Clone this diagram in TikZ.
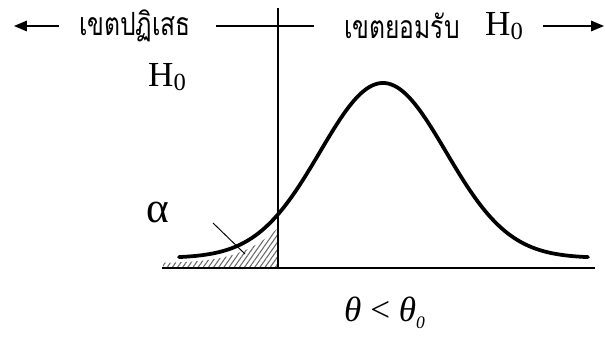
\documentclass[tikz,border=0pt]{standalone}
\usepackage{fontspec}
\setmainfont{Liberation Serif}
\newfontfamily\thaifont[Script=Thai]{Loma}
\usepackage{tikz}
\usetikzlibrary{arrows.meta,patterns.meta}

\newcommand{\tallthai}[1]{\scalebox{1}[1.3]{#1}}
\tikzset{
  zonetxt/.style={inner sep=0pt, font=\thaifont\fontsize{21}{24}\selectfont},
  bigtxt/.style={inner sep=0pt, font=\fontsize{30}{34}\selectfont},
  zoneline/.style={line width=1.2pt},
  bell/.style={line width=3.2pt, line cap=round},
  zonearrow/.style={zoneline, -{Triangle[length=11pt,width=9pt]}},
}

\begin{document}
\begin{tikzpicture}[x=0.03cm,y=-0.03cm]
  \useasboundingbox (0,0) rectangle (605,337);
  % zone labels on top
  \node[zonetxt] (rej) at (135,26) {\tallthai{เขตปฏิเสธ}};
  \node[zonetxt, anchor=west] (acc) at (344,26) {\tallthai{เขตยอมรับ}};
  \node[bigtxt, anchor=west] (hacc) at (485,26) {H\raisebox{-0.12em}{\fontsize{21}{24}\selectfont 0}};
  \coordinate (lft) at (14,26);
  \coordinate (rgt) at (604,26);
  \draw[zonearrow, shorten <=0.6cm] (rej.west) -- (lft);
  \draw[zoneline, shorten <=0.75cm, shorten >=0.9cm] (rej.east) -- (acc.west);
  \draw[zonearrow, shorten <=0.6cm] (hacc.east) -- (rgt);

  % critical value and axis
  \coordinate (vtop) at (278,8);
  \coordinate (vbot) at (278,268);
  \coordinate (bl) at (162,268);
  \coordinate (br) at (595,268);
  \fill[pattern={Lines[angle=55,distance=3.6pt,line width=0.9pt]}, pattern color=black!60]
    (163,268) -- plot[domain=163:278, samples=40, smooth]
      (\x,{263-140*exp(-((\x-383)/63)^2/2)}) -- (vbot) -- cycle;
  \draw[zoneline] (vtop) -- (vbot);
  \draw[zoneline] (bl) -- (br);

  % sampling curve
  \draw[bell] plot[domain=179:588, samples=90, smooth]
    (\x,{258-175*exp(-((\x-383)/63)^2/2)});

  % labels
  \node[bigtxt, anchor=base west] (hzero) at (148,86) {H\raisebox{-0.12em}{\fontsize{21}{24}\selectfont 0}};
  \node[bigtxt, anchor=base west, font=\fontsize{37}{40}\selectfont] (alpha) at (146,222) {α};
  \coordinate (tip) at (245,254);
  \draw[line width=0.8pt] (213,223) -- (tip);
  \node[bigtxt, anchor=base west] (crit) at (344,321)
    {\textit{θ} < \textit{θ}\raisebox{-0.2em}{\fontsize{15}{17}\selectfont\textit{0}}};
\end{tikzpicture}
\end{document}
